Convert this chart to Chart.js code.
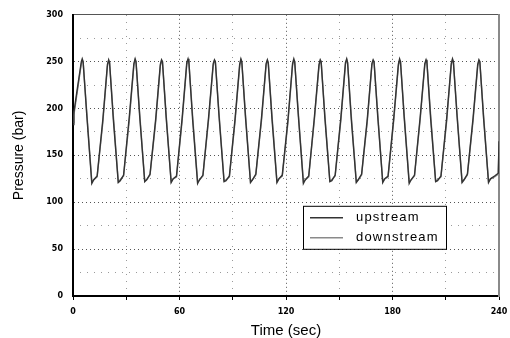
<!DOCTYPE html>
<html>
<head>
<meta charset="utf-8">
<script src="https://cdn.jsdelivr.net/npm/chart.js@4/dist/chart.umd.min.js"></script>
<style>
  body { margin: 0; background: #fff; }
  #wrap { width: 510px; height: 338px; }
</style>
</head>
<body>
<div id="wrap"><canvas id="pressureChart" width="510" height="338"></canvas></div>
<script>
// Time stamps (sec): start, then 16 cycles
const times = [
    0, 0.5, 2.5, 4.7,
    5.2, 5.7, 7.8, 10.6, 11.7, 13.6, 16.8, 19.4,
    20.1, 20.6, 22.7, 25.5, 26.6, 28.5, 31.7, 34.3,
    35.0, 35.5, 37.6, 40.4, 41.5, 43.4, 46.6, 49.2,
    49.9, 50.4, 52.5, 55.3, 56.4, 58.3, 61.5, 64.1,
    64.8, 65.3, 67.4, 70.2, 71.3, 73.2, 76.4, 79.0,
    79.7, 80.2, 82.3, 85.1, 86.2, 88.1, 91.3, 93.9,
    94.6, 95.1, 97.2, 100.0, 101.1, 103.0, 106.2, 108.8,
    109.5, 110.0, 112.1, 114.9, 116.0, 117.9, 121.1, 123.7,
    124.4, 124.9, 127.0, 129.8, 130.9, 132.8, 136.0, 138.6,
    139.3, 139.8, 141.9, 144.7, 145.8, 147.7, 150.9, 153.5,
    154.2, 154.7, 156.8, 159.6, 160.7, 162.6, 165.8, 168.4,
    169.1, 169.6, 171.7, 174.5, 175.6, 177.5, 180.7, 183.3,
    184.0, 184.5, 186.6, 189.4, 190.5, 192.4, 195.6, 198.2,
    198.9, 199.4, 201.5, 204.3, 205.4, 207.3, 210.5, 213.1,
    213.8, 214.3, 216.4, 219.2, 220.3, 222.2, 225.4, 228.0,
    228.7, 229.2, 231.3, 234.1, 235.2, 237.5, 239.6, 240.0
];

// Pressure (bar)
const upstream = [
    183, 196, 222, 250,
    253, 250, 192, 120, 124, 128, 188, 247,
    252, 249, 189, 121, 123, 129, 191, 248,
    253, 250, 191, 122, 124, 130, 189, 247,
    252, 250, 190, 121, 125, 128, 190, 249,
    253, 249, 188, 120, 124, 129, 191, 248,
    252, 250, 191, 122, 123, 128, 189, 247,
    253, 250, 190, 121, 124, 130, 190, 248,
    252, 249, 189, 121, 125, 129, 188, 248,
    253, 250, 191, 120, 124, 128, 191, 247,
    252, 250, 190, 122, 123, 129, 190, 249,
    253, 249, 188, 121, 124, 130, 189, 248,
    252, 250, 191, 121, 125, 128, 190, 247,
    253, 250, 190, 120, 124, 129, 191, 248,
    252, 249, 189, 122, 123, 128, 189, 248,
    253, 250, 191, 121, 124, 130, 190, 247,
    252, 250, 190, 121, 125, 128, 131, 165
];

const downstream = [
    185, 193, 219, 248,
    251, 250, 195, 122, 124, 127, 185, 245,
    251, 249, 193, 122, 124, 128, 187, 246,
    252, 250, 194, 123, 124, 129, 186, 245,
    251, 250, 193, 122, 125, 127, 187, 247,
    251, 249, 192, 122, 124, 128, 188, 246,
    251, 250, 194, 123, 124, 127, 186, 245,
    252, 250, 193, 122, 124, 129, 187, 246,
    251, 249, 193, 122, 125, 128, 185, 246,
    251, 250, 194, 122, 124, 127, 188, 245,
    251, 250, 193, 123, 124, 128, 187, 247,
    252, 249, 192, 122, 124, 129, 186, 246,
    251, 250, 194, 122, 125, 127, 187, 245,
    251, 250, 193, 122, 124, 128, 188, 246,
    251, 249, 193, 123, 124, 127, 186, 246,
    252, 250, 194, 122, 124, 129, 187, 245,
    251, 250, 193, 122, 125, 127, 130, 160
];

const xTicks = [0, 60, 120, 180, 240];
const yTicks = [0, 50, 100, 150, 200, 250, 300];

const tickFont = { family: 'DejaVu Sans', size: 8, weight: 'bold' };

// draws the boxed legend inside the plot area
const insetLegend = {
    id: 'insetLegend',
    afterDraw(chart) {
        const { ctx, chartArea } = chart;
        const left = chartArea.left + 230, top = chartArea.top + 191, w = 143, h = 43;
        ctx.save();
        ctx.fillStyle = '#fff';
        ctx.fillRect(left, top, w, h);
        ctx.strokeStyle = '#000';
        ctx.lineWidth = 1;
        ctx.strokeRect(left + 0.5, top + 0.5, w, h);
        chart.data.datasets.forEach((ds, i) => {
            const y = top + 12 + i * 20;
            ctx.strokeStyle = ds.borderColor;
            ctx.lineWidth = 1.5;
            ctx.beginPath();
            ctx.moveTo(left + 7, y);
            ctx.lineTo(left + 40, y);
            ctx.stroke();
            ctx.fillStyle = '#000';
            ctx.font = '13px "Liberation Sans"';
            ctx.letterSpacing = '1.2px';
            ctx.textBaseline = 'middle';
            ctx.fillText(ds.label, left + 53, y);
        });
        ctx.restore();
    }
};

const ctx = document.getElementById('pressureChart').getContext('2d');
new Chart(ctx, {
    type: 'line',
    data: {
        datasets: [{
            label: 'upstream',
            data: times.map((t, i) => ({ x: t, y: upstream[i] })),
            borderColor: '#333333',
            borderWidth: 1.4,
            pointRadius: 0,
            tension: 0
        }, {
            label: 'downstream',
            data: times.map((t, i) => ({ x: t, y: downstream[i] })),
            borderColor: '#8a8a8a',
            borderWidth: 1.4,
            pointRadius: 0,
            tension: 0
        }]
    },
    options: {
        responsive: false,
        animation: false,
        layout: { padding: { left: 0, top: 13, right: 11, bottom: 0 } },
        scales: {
            x: {
                type: 'linear',
                position: 'bottom',
                min: 0,
                max: 240,
                afterFit: s => { s.height = 42; s.paddingLeft = 0; s.paddingRight = 0; },
                ticks: {
                    stepSize: 30,
                    autoSkip: false,
                    maxRotation: 0,
                    padding: 7,
                    color: '#000',
                    font: tickFont,
                    callback: v => xTicks.includes(v) ? v : ''
                },
                grid: {
                    color: c => (c.tick && c.tick.value % 60 === 0 && c.tick.value > 0 && c.tick.value < 240) ? '#555' : 'transparent',
                    lineWidth: 1,
                    drawTicks: true,
                    tickLength: 4,
                    tickColor: '#000'
                },
                border: { color: '#000', width: 2, dash: [1, 3] },
                title: {
                    display: true,
                    text: 'Time (sec)',
                    color: '#000',
                    font: { family: 'Liberation Sans', size: 15, lineHeight: 1 },
                    padding: { top: 0, bottom: 0 }
                }
            },
            xMinor: {
                type: 'linear',
                position: 'top',
                min: 0,
                max: 240,
                afterFit: s => { s.height = 0; s.paddingLeft = 0; s.paddingRight = 0; },
                ticks: { display: false, stepSize: 30 },
                grid: {
                    color: c => (c.tick && c.tick.value % 60 !== 0) ? '#9a9a9a' : 'transparent',
                    lineWidth: 1,
                    drawTicks: false
                },
                border: { color: '#555', width: 1, dash: [1, 6] }
            },
            y: {
                type: 'linear',
                position: 'left',
                min: 0,
                max: 300,
                afterFit: s => { s.width = 73; },
                ticks: {
                    stepSize: 25,
                    autoSkip: false,
                    padding: 10,
                    color: '#000',
                    font: tickFont,
                    callback: v => yTicks.includes(v) ? v : ''
                },
                grid: {
                    color: c => (c.tick && c.tick.value % 50 === 0 && c.tick.value > 0 && c.tick.value < 300) ? '#555' : 'transparent',
                    lineWidth: 1,
                    drawTicks: false
                },
                border: { color: '#000', width: 2, dash: [1, 3] },
                title: {
                    display: true,
                    text: 'Pressure (bar)',
                    color: '#000',
                    font: { family: 'Liberation Sans', size: 14 },
                    padding: { top: 11, bottom: 0 }
                }
            },
            yMinor: {
                type: 'linear',
                position: 'right',
                min: 0,
                max: 300,
                afterFit: s => { s.width = 0; },
                ticks: { display: false, stepSize: 25 },
                grid: {
                    color: c => (c.tick && c.tick.value % 50 !== 0) ? '#9a9a9a' : 'transparent',
                    lineWidth: 1,
                    drawTicks: false
                },
                border: { color: '#8a8a8a', width: 2, dash: [1, 6] }
            }
        },
        plugins: {
            legend: { display: false },
            tooltip: { enabled: false }
        }
    },
    plugins: [insetLegend]
});
</script>
</body>
</html>
